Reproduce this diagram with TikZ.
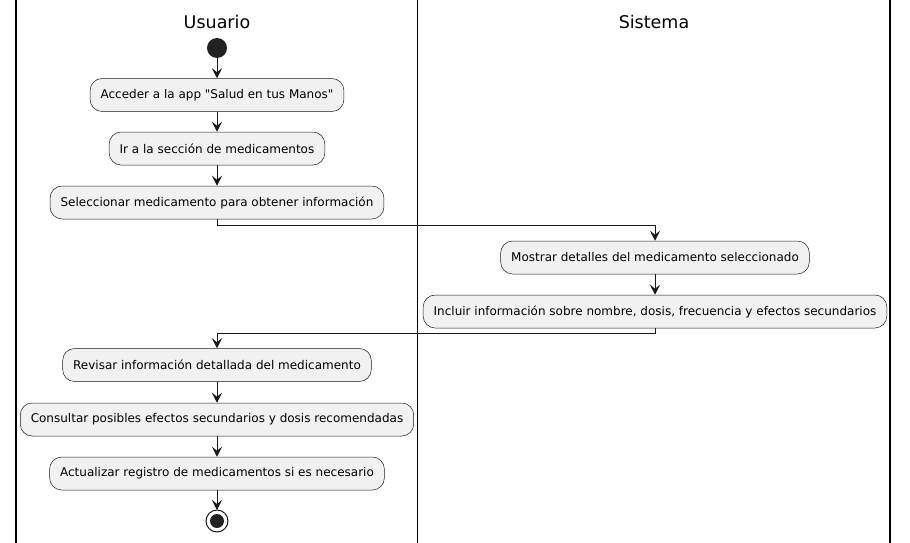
\documentclass[tikz,border=0pt]{standalone}
\usepackage{fontspec}
\setmainfont{DejaVu Sans}[Ligatures=TeXOff]
\usetikzlibrary{arrows.meta,positioning}
\definecolor{SwimBox}{HTML}{F1F1F1}
\definecolor{SwimInk}{HTML}{181818}
\definecolor{SwimDot}{HTML}{222222}
\tikzset{
  actbox/.style={draw=SwimInk,fill=SwimBox,line width=0.5pt,rounded corners=12pt,
    minimum height=33pt,inner xsep=10.5pt,font=\fontsize{12}{14}\selectfont},
  flow/.style={draw=SwimInk,line width=1pt,-{Stealth[length=10pt,width=10pt,inset=4pt]}},
  lanehead/.style={font=\fontsize{17.5}{20}\selectfont},
  laneline/.style={black,line width=1.5pt}
}

\begin{document}
\begin{tikzpicture}[x=1pt,y=-1pt]

        \useasboundingbox (0,0) rectangle (910,543);

        % swimlane borders
        \draw[laneline] (16,0) -- (16,543);
        \draw[laneline] (417.5,0) -- (417.5,543);
        \draw[laneline] (890,0) -- (890,543);

        \node[lanehead] (usuario) at (217,22) {Usuario};
        \node[lanehead] (sistema) at (654,22) {Sistema};

        \fill[SwimDot] (217,48) circle[radius=10];
        \coordinate (start) at (217,58);

        \node[actbox] (acceder) at (217,95) {Acceder a la app "Salud en tus Manos"};
        \node[actbox] (seccion) at (217,148.5) {Ir a la sección de medicamentos};
        \node[actbox] (elegir) at (217,202.5) {Seleccionar medicamento para obtener información};

        \node[actbox] (mostrar) at (655,257.5) {Mostrar detalles del medicamento seleccionado};
        \node[actbox] (incluir) at (655,311.5) {Incluir información sobre nombre, dosis, frecuencia y efectos secundarios};

        \node[actbox] (revisar) at (217,365) {Revisar información detallada del medicamento};
        \node[actbox] (consultar) at (217,419.5) {Consultar posibles efectos secundarios y dosis recomendadas};
        \node[actbox] (actualizar) at (217,473.5) {Actualizar registro de medicamentos si es necesario};

        \draw[SwimInk,line width=1pt,fill=white] (217,521) circle[radius=11];
        \fill[SwimDot] (217,521) circle[radius=7];
        \coordinate (stop) at (217,510);

        \draw[flow] (start) -- (acceder);
        \draw[flow] (acceder) -- (seccion);
        \draw[flow] (seccion) -- (elegir);
        \draw[flow] (elegir.south) -- ++(0,6) -| (mostrar.north);
        \draw[flow] (mostrar) -- (incluir);
        \draw[flow] (incluir.south) -- ++(0,5) -| (revisar.north);
        \draw[flow] (revisar) -- (consultar);
        \draw[flow] (consultar) -- (actualizar);
        \draw[flow] (actualizar) -- (stop);

      \end{tikzpicture}
\end{document}
